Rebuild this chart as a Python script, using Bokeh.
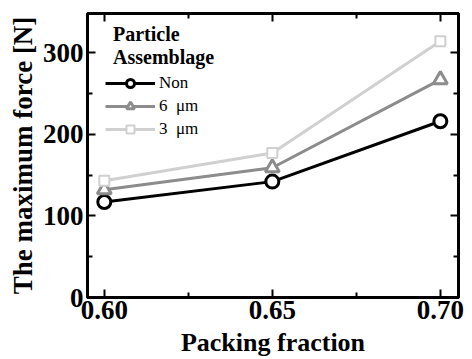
from bokeh.plotting import figure
from bokeh.models import Range1d, LinearAxis, FixedTicker, Legend, LegendItem, CustomJSTickFormatter
from bokeh.embed import file_html
from bokeh.resources import INLINE

packing = [0.60, 0.65, 0.70]
force_non = [117, 142, 216]
force_6um = [132, 159, 267]
force_3um = [143, 177, 314]
series_labels = ["Non", "6  μm", "3  μm"]
legend_title = "\u2009\u2009Particle\n\u2009\u2009Assemblage"
x_ticks = [0.60, 0.65, 0.70]
y_ticks = [0, 100, 200, 300]

FONT = "Liberation Serif"

p = figure(width=472, height=359, output_backend="svg", toolbar_location=None,
           x_range=Range1d(0.595, 0.7054), y_range=Range1d(0, 348),
           min_border_left=87, min_border_right=14, min_border_top=13, min_border_bottom=61)
p.grid.visible = False
p.outline_line_color = "black"
p.outline_line_width = 3
p.background_fill_color = "white"
p.border_fill_color = "white"

def style_axis(ax, labels=True):
    ax.axis_line_width = 3
    ax.axis_line_color = "black"
    ax.major_tick_in = 8
    ax.major_tick_out = 0
    ax.minor_tick_in = 5
    ax.minor_tick_out = 0
    ax.major_tick_line_width = 2
    ax.minor_tick_line_width = 2
    ax.major_label_text_font = FONT
    ax.major_label_text_font_style = "bold"
    ax.major_label_text_font_size = "26px"
    ax.major_label_text_color = "black"
    ax.axis_label_text_font = FONT
    ax.axis_label_text_font_style = "bold"
    ax.axis_label_text_font_size = "26px"
    ax.axis_label_text_color = "black"
    if not labels:
        ax.formatter = CustomJSTickFormatter(code="return '';")
        ax.major_label_standoff = 0

xt = FixedTicker(ticks=x_ticks, minor_ticks=[0.625, 0.675])
yt = FixedTicker(ticks=y_ticks, minor_ticks=[50, 150, 250])

p.xaxis.ticker = xt
p.yaxis.ticker = yt
p.xaxis.axis_label = "Packing fraction"
p.yaxis.axis_label = "The maximum force [N]"
p.xaxis.formatter = CustomJSTickFormatter(code="return tick.toFixed(2);")
style_axis(p.xaxis[0])
style_axis(p.yaxis[0])
p.xaxis.major_label_text_font_size = "27px"
p.yaxis.major_label_text_font_size = "27px"
p.yaxis.axis_label_text_font_size = "27px"
p.xaxis.major_label_standoff = 3
p.yaxis.major_label_standoff = 4
p.xaxis.axis_label_standoff = 6
p.yaxis.axis_label_standoff = 2

top = LinearAxis(ticker=xt)
right = LinearAxis(ticker=yt)
style_axis(top, labels=False)
style_axis(right, labels=False)
p.add_layout(top, "above")
p.add_layout(right, "right")

r1l = p.line(packing, force_non, line_color="black", line_width=3)
r1m = p.scatter(packing, force_non, marker="circle", size=13, fill_color="white",
                line_color="black", line_width=3)
r2l = p.line(packing, force_6um, line_color="#8c8c8c", line_width=3)
r2m = p.scatter(packing, force_6um, marker="triangle", size=14, fill_color="white",
                line_color="#8c8c8c", line_width=3)
r3l = p.line(packing, force_3um, line_color="#d0d0d0", line_width=3)
r3m = p.scatter(packing, force_3um, marker="square", size=10, fill_color="white",
                line_color="#d0d0d0", line_width=2)

legend = Legend(items=[
    LegendItem(label=series_labels[0], renderers=[r1l, r1m]),
    LegendItem(label=series_labels[1], renderers=[r2l, r2m]),
    LegendItem(label=series_labels[2], renderers=[r3l, r3m]),
], location=(18, 158), title=legend_title)
legend.title_text_font = FONT
legend.title_text_font_style = "bold"
legend.title_text_font_size = "20px"
legend.title_text_color = "black"
legend.title_standoff = 4
legend.label_text_font = FONT
legend.label_text_font_size = "17px"
legend.label_text_color = "black"
legend.background_fill_alpha = 0
legend.border_line_alpha = 0
legend.glyph_width = 50
legend.glyph_height = 20
legend.spacing = 3
legend.padding = 0
legend.margin = 0
legend.label_standoff = 4
p.add_layout(legend)

open("out.html", "w").write(file_html(p, INLINE))
